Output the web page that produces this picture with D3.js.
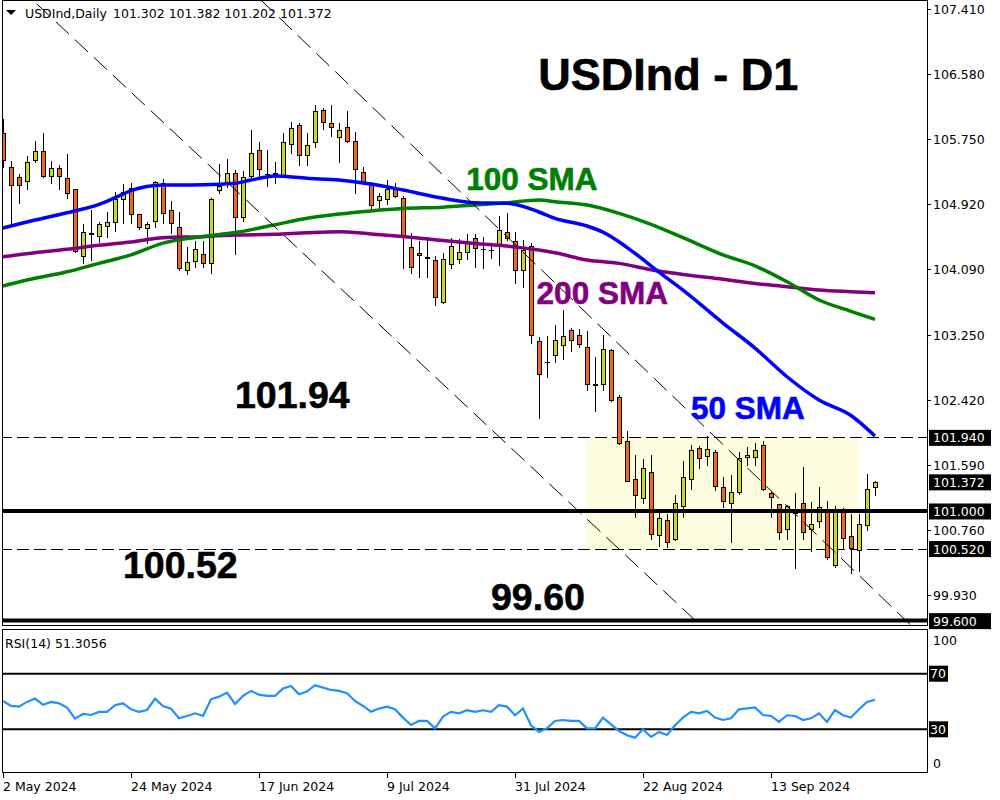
<!DOCTYPE html>
<html><head><meta charset="utf-8">
<script src="https://cdn.jsdelivr.net/npm/d3@7"></script>
<style>body{margin:0;background:#fff}svg{display:block}</style>
</head><body><svg id="c" width="1000" height="800"></svg>
<script>
// ---------- DATA ----------
const dates = [
"2024-05-02","2024-05-03","2024-05-06","2024-05-07","2024-05-08","2024-05-09","2024-05-10","2024-05-13","2024-05-14","2024-05-15",
"2024-05-16","2024-05-17","2024-05-20","2024-05-21","2024-05-22","2024-05-23","2024-05-24","2024-05-27","2024-05-28","2024-05-29",
"2024-05-30","2024-05-31","2024-06-03","2024-06-04","2024-06-05","2024-06-06","2024-06-07","2024-06-10","2024-06-11","2024-06-12",
"2024-06-13","2024-06-14","2024-06-17","2024-06-18","2024-06-19","2024-06-20","2024-06-21","2024-06-24","2024-06-25","2024-06-26",
"2024-06-27","2024-06-28","2024-07-01","2024-07-02","2024-07-03","2024-07-04","2024-07-05","2024-07-08","2024-07-09","2024-07-10",
"2024-07-11","2024-07-12","2024-07-15","2024-07-16","2024-07-17","2024-07-18","2024-07-19","2024-07-22","2024-07-23","2024-07-24",
"2024-07-25","2024-07-26","2024-07-29","2024-07-30","2024-07-31","2024-08-01","2024-08-02","2024-08-05","2024-08-06","2024-08-07",
"2024-08-08","2024-08-09","2024-08-12","2024-08-13","2024-08-14","2024-08-15","2024-08-16","2024-08-19","2024-08-20","2024-08-21",
"2024-08-22","2024-08-23","2024-08-26","2024-08-27","2024-08-28","2024-08-29","2024-08-30","2024-09-02","2024-09-03","2024-09-04",
"2024-09-05","2024-09-06","2024-09-09","2024-09-10","2024-09-11","2024-09-12","2024-09-13","2024-09-16","2024-09-17","2024-09-18",
"2024-09-19","2024-09-20","2024-09-23","2024-09-24","2024-09-25","2024-09-26","2024-09-27","2024-09-30","2024-10-01","2024-10-02"];

const open = [105.826,105.388,105.261,105.210,105.482,105.597,105.273,105.376,105.248,105.107,
104.252,104.545,104.507,104.635,104.686,104.980,105.120,104.788,104.609,104.706,
105.184,104.839,104.622,104.077,104.188,104.285,104.162,105.099,105.175,105.312,
104.750,105.281,105.606,105.300,105.300,105.277,105.686,105.925,105.549,105.708,
106.116,105.950,105.772,105.899,105.720,105.332,105.184,104.971,104.980,105.111,
104.993,104.367,104.290,104.240,104.201,103.672,104.150,104.213,104.303,104.482,
104.345,104.330,104.409,104.566,104.451,104.077,104.387,103.166,102.902,102.987,
103.115,103.307,103.243,103.093,102.620,102.617,103.051,102.459,101.889,101.404,
101.161,101.493,100.689,100.880,100.637,101.067,101.404,101.800,101.698,101.749,
101.302,101.097,101.238,101.685,101.685,101.838,101.225,101.085,100.765,100.970,
101.097,100.765,100.868,101.021,100.306,101.012,100.684,100.501,100.816,101.302];
const high = [106.005,105.469,105.303,105.533,105.720,105.823,105.469,105.414,105.558,105.111,
104.660,104.843,104.686,104.814,105.069,105.171,105.192,104.790,104.686,105.213,
105.235,104.958,104.814,104.374,104.451,104.451,105.000,105.431,105.491,105.354,
105.341,105.865,105.708,105.606,105.460,105.823,105.963,105.950,105.823,106.180,
106.142,106.184,105.950,106.104,105.835,105.388,105.205,105.064,105.226,105.184,
105.022,104.553,104.451,104.502,104.256,104.290,104.482,104.473,104.537,104.537,
104.502,104.409,104.766,104.801,104.566,104.460,104.418,103.225,103.234,103.374,
103.566,103.332,103.320,103.298,102.970,103.247,103.068,102.480,102.021,101.714,
101.663,101.714,100.970,100.961,101.200,101.634,101.838,101.829,101.957,101.778,
101.429,101.459,101.749,101.813,101.864,101.893,101.245,101.085,101.072,101.225,
101.557,101.114,101.302,101.127,101.063,101.034,100.961,100.961,101.472,101.382];
const low = [105.392,104.639,104.936,105.107,105.460,105.265,105.192,105.107,105.000,104.311,
104.162,104.205,104.438,104.502,104.579,104.673,104.673,104.600,104.418,104.622,
104.681,104.546,104.077,104.026,104.119,104.119,104.042,105.064,105.133,104.281,
104.706,105.261,105.261,105.150,105.192,105.261,105.575,105.414,105.414,105.644,
105.874,105.792,105.460,105.712,105.064,105.175,104.847,104.852,104.920,105.005,
104.098,104.042,103.991,103.991,103.630,103.659,104.098,104.170,104.213,104.111,
104.098,104.226,104.141,104.460,103.907,103.864,103.141,102.183,102.707,102.902,
102.936,103.046,103.097,102.544,102.280,102.544,102.408,101.855,101.378,100.926,
101.097,100.637,100.556,100.535,100.625,100.926,101.280,101.544,101.583,101.267,
101.046,100.607,101.212,101.583,101.583,101.267,100.926,100.637,100.637,100.267,
100.637,100.492,100.799,100.390,100.288,100.522,100.211,100.237,100.756,101.202];
const close = [105.482,105.159,105.162,105.452,105.597,105.277,105.376,105.273,105.056,104.323,
104.558,104.540,104.660,104.686,104.984,105.069,104.788,104.630,104.660,105.197,
104.801,104.673,104.098,104.183,104.341,104.162,104.984,105.150,105.312,104.750,
105.261,105.567,105.363,105.306,105.310,105.715,105.886,105.542,105.669,106.104,
105.971,105.907,105.861,105.728,105.371,105.184,104.903,105.018,105.111,105.022,
104.494,104.111,104.265,104.234,103.728,104.213,104.387,104.303,104.425,104.354,
104.341,104.333,104.584,104.482,104.077,104.332,103.243,102.749,102.900,103.179,
103.230,103.179,103.136,102.617,102.615,103.064,102.417,101.871,101.378,101.200,
101.544,100.701,100.906,100.599,101.097,101.429,101.774,101.672,101.787,101.314,
101.123,101.238,101.672,101.714,101.774,101.284,101.182,100.727,101.063,101.012,
100.727,100.829,101.046,100.408,101.012,100.650,100.522,100.829,101.276,101.372];

// moving averages: [bar index, value]
const sma50 = [[0,104.613],[4,104.715],[8,104.809],[12,104.916],[14,105.000],[16,105.090],[20,105.162],[25,105.165],[29,105.184],[31,105.226],[34,105.277],[38,105.248],[42,105.226],[46,105.175],[50,105.098],[55,104.993],[59,104.936],[63,104.929],[67,104.818],[69,104.737],[73,104.639],[75,104.560],[79,104.290],[82,104.050],[85,103.820],[90,103.400],[94,103.080],[98,102.714],[102,102.417],[106,102.220],[109,101.957]];
const sma100 = [[0,103.873],[3,103.949],[8,104.055],[12,104.162],[16,104.270],[20,104.420],[25,104.505],[29,104.555],[34,104.655],[38,104.737],[42,104.792],[46,104.832],[50,104.862],[55,104.880],[59,104.907],[63,104.936],[67,104.971],[69,104.949],[73,104.907],[77,104.801],[81,104.660],[85,104.490],[90,104.270],[94,104.130],[98,103.927],[102,103.694],[106,103.550],[109,103.447]];
const sma200 = [[0,104.247],[4,104.298],[8,104.341],[12,104.392],[16,104.435],[20,104.490],[25,104.503],[29,104.524],[34,104.533],[38,104.553],[42,104.566],[46,104.538],[50,104.505],[55,104.455],[59,104.416],[63,104.383],[67,104.332],[69,104.298],[73,104.204],[77,104.162],[81,104.080],[85,104.020],[90,103.958],[94,103.905],[98,103.864],[102,103.821],[106,103.800],[109,103.787]];

const rsi = [50.4,46.8,46.3,49.7,52.1,47.7,49.7,48.7,45.6,37.7,
41.0,40.3,42.5,42.5,47.3,48.7,44.4,42.5,43.9,52.1,
46.8,44.9,37.9,39.6,41.5,39.6,51.6,53.5,56.4,48.2,
54.0,57.6,54.9,54.0,54.0,59.3,61.2,55.2,57.2,61.7,
60.0,58.3,57.6,55.9,50.4,46.8,42.7,44.9,46.3,44.4,
38.4,33.1,36.0,36.0,30.7,39.1,42.5,41.5,43.7,42.5,
43.7,42.5,47.3,46.3,40.1,44.9,32.9,28.1,30.7,36.0,
36.7,36.0,36.0,30.7,30.7,38.4,33.6,28.8,25.7,24.0,
30.0,24.5,28.1,25.9,32.9,38.4,42.5,41.5,43.2,38.4,
36.7,37.9,44.4,45.1,45.8,40.3,39.6,35.3,40.1,39.6,
36.7,37.9,41.5,35.3,43.9,40.1,38.4,44.4,49.7,51.3];

const priceTicks = ["107.410","106.580","105.750","104.920","104.090","103.250","102.420","101.590","100.760","99.930"];
const markedLevels = ["101.940","101.372","101.000","100.520","99.600"];
const dashedLevels = [101.94, 100.52];
const solidLevels = [101.0, 99.6];
const rsiLevels = [70, 30];
const rsiAxisLabels = ["100","0"];
const xTickIdx = [0,16,32,48,64,80,96];
// trend-channel anchors [bar index, price]
const channelA = [[4,107.496],[87,99.558]];
const channelB = [[33,107.451],[113,99.588]];
// range box [start idx, end idx, top, bottom]
const rangeBox = [73, 107, 101.94, 100.52];
const annotations = [
  {t:"USDInd - D1", i:66.9, p:106.375, size:45, c:"#000"},
  {t:"100 SMA", i:57.9, p:105.105, size:31.5, c:"#008000"},
  {t:"200 SMA", i:66.7, p:103.640, size:31.5, c:"#800080"},
  {t:"50 SMA", i:86, p:102.180, size:31.5, c:"#0000ff"},
  {t:"101.94", i:29, p:102.315, size:37.5, c:"#000"},
  {t:"100.52", i:15, p:100.140, size:37.5, c:"#000"},
  {t:"99.60", i:61, p:99.735, size:37.5, c:"#000"}
];
const header = ["USDInd,Daily", "101.302 101.382 101.202 101.372"];
const rsiTitle = "RSI(14) 51.3056";

// ---------- CHART ----------
const svg = d3.select("#c");
const W = 927;
const x = d3.scaleLinear().domain([0, 109]).range([3, 875]);
const y = d3.scaleLinear().domain([99.544, 107.525]).range([625, 0]);
const yr = d3.scaleLinear().domain([0, 100]).range([771, 632]);
const parse = d3.timeParse("%Y-%m-%d");
const fmt = d3.timeFormat("%-d %b %Y");
const AX = "DejaVu Sans, sans-serif";
const BOLD = "Liberation Sans, Arial, sans-serif";

svg.append("rect").attr("width",1000).attr("height",800).attr("fill","#fff");
svg.append("defs").append("clipPath").attr("id","mainClip")
  .append("rect").attr("x",2).attr("y",1).attr("width",W-2).attr("height",624);
const main = svg.append("g").attr("clip-path","url(#mainClip)");

// range box
main.append("rect")
  .attr("x", x(rangeBox[0]) - 1).attr("y", y(rangeBox[2]))
  .attr("width", x(rangeBox[1]) - x(rangeBox[0]) + 1)
  .attr("height", y(rangeBox[3]) - y(rangeBox[2]))
  .attr("fill", "#fffde0");

// dashed horizontals
main.selectAll(".dl").data(dashedLevels).join("line")
  .attr("x1",0).attr("x2",W).attr("y1",d=>Math.round(y(d))+0.5).attr("y2",d=>Math.round(y(d))+0.5)
  .attr("stroke","#000").attr("stroke-width",1).attr("stroke-dasharray","12,5");

// candles
const idx = d3.range(dates.length);
const cg = main.append("g").attr("shape-rendering","crispEdges");
idx.forEach(i => {
  const cx = Math.round(x(i));
  const g = cg.append("g");
  g.append("line").attr("x1",cx+0.5).attr("x2",cx+0.5)
    .attr("y1",Math.round(y(high[i]))).attr("y2",Math.round(y(low[i]))+1)
    .attr("stroke","#000");
  const top = Math.round(y(Math.max(open[i],close[i])));
  const bot = Math.round(y(Math.min(open[i],close[i])));
  if (bot - top < 1) {
    g.append("line").attr("x1",cx-2).attr("x2",cx+3).attr("y1",top+0.5).attr("y2",top+0.5).attr("stroke","#000");
  } else {
    g.append("rect").attr("x",cx-1.5).attr("y",top+0.5).attr("width",4).attr("height",bot-top)
      .attr("fill", close[i] >= open[i] ? "#c6d63a" : "#f2642a")
      .attr("stroke","#000").attr("stroke-width",1);
  }
});

// moving averages
const lineGen = d3.line().x(d=>x(d[0])).y(d=>y(d[1])).curve(d3.curveMonotoneX);
[[sma200,"#800080"],[sma100,"#008000"],[sma50,"#0000ff"]].forEach(([s,c]) => {
  main.append("path").attr("d", lineGen(s)).attr("fill","none").attr("stroke",c).attr("stroke-width",3.5);
});

// channel lines
[channelA, channelB].forEach(ch => {
  const [p0,p1] = ch;
  const k = (p1[1]-p0[1])/(p1[0]-p0[0]);
  const a = [-10, p0[1] + k*(-10-p0[0])], b = [125, p0[1] + k*(125-p0[0])];
  main.append("line").attr("x1",x(a[0])).attr("y1",y(a[1])).attr("x2",x(b[0])).attr("y2",y(b[1]))
    .attr("stroke","#000").attr("stroke-width",1).attr("stroke-dasharray","18,8");
});

// solid thick horizontals
main.selectAll(".sl").data(solidLevels).join("line")
  .attr("x1",0).attr("x2",W).attr("y1",d=>y(d)).attr("y2",d=>y(d))
  .attr("stroke","#000").attr("stroke-width",4);

// annotations
svg.selectAll(".ann").data(annotations).join("text")
  .attr("x",d=>x(d.i)).attr("y",d=>y(d.p))
  .attr("font-family",BOLD).attr("font-weight","bold")
  .attr("font-size",d=>d.size).attr("fill",d=>d.c)
  .attr("stroke",d=>d.c).attr("stroke-width",0.6).text(d=>d.t);

// header
svg.append("path").attr("d","M6,10 L16,10 L11,15 Z").attr("fill","#000");
svg.append("text").attr("x",25).attr("y",18).attr("font-family",AX).attr("font-size",12.5).text(header[0]);
svg.append("text").attr("x",113).attr("y",18).attr("font-family",AX).attr("font-size",12.5).text(header[1]);

// frames
svg.append("rect").attr("x",2.5).attr("y",0.5).attr("width",W-2).attr("height",625)
  .attr("fill","none").attr("stroke","#000").attr("shape-rendering","crispEdges");

// price axis
const yAxis = svg.append("g").attr("font-family",AX).attr("font-size",12.5);
priceTicks.forEach(t => {
  const v = +t, yy = Math.round(y(v)) + 0.5;
  yAxis.append("line").attr("x1",W).attr("x2",W+4).attr("y1",yy).attr("y2",yy).attr("stroke","#000");
  yAxis.append("text").attr("x",W+6).attr("y",yy).attr("dy","0.36em").attr("fill","#000").text(t);
});
markedLevels.forEach(t => {
  const yy = y(+t);
  yAxis.append("rect").attr("x",W+2).attr("y",yy-7.5).attr("width",62).attr("height",16).attr("fill","#000");
  yAxis.append("text").attr("x",W+6).attr("y",yy+0.5).attr("dy","0.36em").attr("fill","#fff").text(t);
});

// RSI panel
svg.append("rect").attr("x",2.5).attr("y",629.5).attr("width",W-2).attr("height",143)
  .attr("fill","none").attr("stroke","#000").attr("shape-rendering","crispEdges");
svg.selectAll(".rl").data(rsiLevels).join("line")
  .attr("x1",3).attr("x2",W).attr("y1",d=>yr(d)).attr("y2",d=>yr(d))
  .attr("stroke","#000").attr("stroke-width",2);
svg.append("path").attr("d", d3.line().x((d,i)=>x(i)).y(d=>yr(d))(rsi))
  .attr("fill","none").attr("stroke","#1e90ff").attr("stroke-width",2.2);
svg.append("text").attr("x",5).attr("y",648).attr("font-family",AX).attr("font-size",12.5).text(rsiTitle);
const ra = svg.append("g").attr("font-family",AX).attr("font-size",12.5);
rsiLevels.forEach(v => {
  ra.append("rect").attr("x",W+2).attr("y",yr(v)-8).attr("width",19).attr("height",16).attr("fill","#000");
  ra.append("text").attr("x",W+3).attr("y",yr(v)).attr("dy","0.36em").attr("fill","#fff").text(v);
});
rsiAxisLabels.forEach(t => {
  ra.append("text").attr("x",W+6).attr("y",yr(+t)+ (t==="100"? 8 : -8)).attr("dy","0.36em").text(t);
});

// time axis
const xa = svg.append("g").attr("font-family",AX).attr("font-size",12.5);
xTickIdx.forEach(i => {
  const xx = Math.round(x(i)) + 0.5;
  xa.append("line").attr("x1",xx).attr("x2",xx).attr("y1",773).attr("y2",778).attr("stroke","#000");
  xa.append("text").attr("x",xx-0.5).attr("y",791).text(fmt(parse(dates[i])));
});
</script></body></html>
